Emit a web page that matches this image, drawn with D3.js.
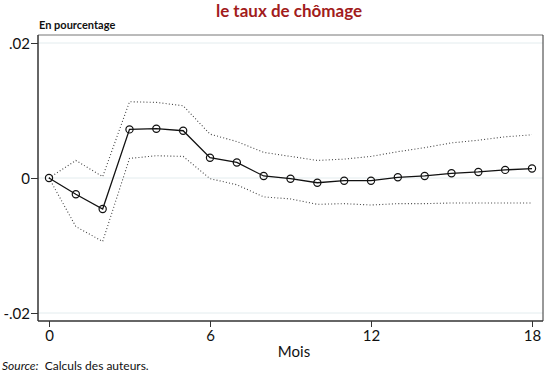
<!DOCTYPE html>
<html>
<head>
<meta charset="utf-8">
<style>
  body { margin: 0; background: #fff; font-family: Lato, "Open Sans", sans-serif; }
  svg { display: block; }
</style>
</head>
<body>
<svg id="chart" width="550" height="374"></svg>
<script src="https://d3js.org/d3.v7.min.js"></script>
<script>
  let months = d3.range(0, 19)
  let estimate = [0, -0.0024, -0.0046, 0.0072, 0.0073, 0.0070, 0.0030, 0.0023, 0.0003, -0.0001,
                  -0.0007, -0.0004, -0.0004, 0.0001, 0.0003, 0.0007, 0.0009, 0.0012, 0.0014]
  let upper = [0, 0.0026, 0.0002, 0.0113, 0.0112, 0.0107, 0.0065, 0.0054, 0.0038, 0.0032,
               0.0026, 0.0028, 0.0032, 0.0039, 0.0045, 0.0052, 0.0056, 0.0061, 0.0064]
  let lower = [0, -0.0072, -0.0094, 0.0029, 0.0033, 0.0032, -0.0001, -0.0010, -0.0028, -0.0031,
               -0.0039, -0.0038, -0.0040, -0.0038, -0.0038, -0.0037, -0.0037, -0.0037, -0.0037]
  let xTicks = [0, 6, 12, 18]
  let yTicks = [0.02, 0, -0.02]
  let yLabels = [".02", "0", "-.02"]

  let svg = d3.select("#chart")
  let box = {left: 38, right: 543, top: 35, bottom: 321}

  let xScale = d3.scaleLinear().domain([0, 18]).range([49, 532])
  let yScale = d3.scaleLinear().domain([-0.02, 0.02]).range([313, 43])

  // gridlines
  svg.append("g").selectAll("line")
    .data(yTicks)
    .enter().append("line")
    .attr("x1", box.left).attr("x2", box.right)
    .attr("y1", d => yScale(d)).attr("y2", d => yScale(d))
    .attr("stroke", "#e3ecee").attr("stroke-width", 1)

  // frame
  svg.append("line").attr("x1", box.left).attr("x2", box.right).attr("y1", box.top).attr("y2", box.top)
    .attr("stroke", "#777").attr("stroke-width", 1)
  svg.append("line").attr("x1", box.right).attr("x2", box.right).attr("y1", box.top).attr("y2", box.bottom)
    .attr("stroke", "#333").attr("stroke-width", 1)

  // y axis
  let yAxis = d3.axisLeft(yScale).tickValues(yTicks).tickSize(7)
    .tickFormat((d, i) => yLabels[i])
  let gy = svg.append("g").attr("transform", `translate(${box.left},0)`).call(yAxis)
  gy.select(".domain").attr("d", `M0,${box.top}V${box.bottom}`).attr("stroke", "#333").attr("stroke-width", 1.5)
  gy.selectAll(".tick line").attr("stroke", "#333")
  gy.selectAll(".tick text").attr("font-family", "Lato, sans-serif").attr("font-size", 15)
    .attr("fill", "#111").attr("x", -8).attr("dy", "0.35em")

  // x axis
  let xAxis = d3.axisBottom(xScale).tickValues(xTicks).tickSize(6)
  let gx = svg.append("g").attr("transform", `translate(0,${box.bottom})`).call(xAxis)
  gx.select(".domain").attr("d", `M${box.left},0H${box.right}`).attr("stroke", "#333").attr("stroke-width", 1.5)
  gx.selectAll(".tick line").attr("stroke", "#333")
  gx.selectAll(".tick text").attr("font-family", "Lato, sans-serif").attr("font-size", 15)
    .attr("fill", "#111").attr("y", 9)

  // confidence bands
  let line = d3.line().x((d, i) => xScale(months[i])).y(d => yScale(d))
  ;[upper, lower].forEach(s => {
    svg.append("path").datum(s).attr("d", line)
      .attr("fill", "none").attr("stroke", "#444").attr("stroke-width", 1.1)
      .attr("stroke-dasharray", "1,2.2")
  })

  // estimate
  svg.append("path").datum(estimate).attr("d", line)
    .attr("fill", "none").attr("stroke", "#111").attr("stroke-width", 1.3)
  svg.append("g").selectAll("circle")
    .data(estimate)
    .enter().append("circle")
    .attr("cx", (d, i) => xScale(months[i]))
    .attr("cy", d => yScale(d))
    .attr("r", 3.6)
    .attr("fill", "none").attr("stroke", "#111").attr("stroke-width", 1.2)

  // texts
  svg.append("text").attr("x", 289).attr("y", 17).attr("text-anchor", "middle")
    .attr("font-size", 17).attr("font-weight", "bold").attr("fill", "#a21c1c")
    .text("le taux de chômage")
  svg.append("text").attr("x", 39).attr("y", 29)
    .attr("font-size", 11).attr("font-weight", "bold").attr("fill", "#111")
    .text("En pourcentage")
  svg.append("text").attr("x", 294).attr("y", 357).attr("text-anchor", "middle")
    .attr("font-size", 15).attr("fill", "#111").text("Mois")
  let src = svg.append("text").attr("x", 2).attr("y", 370).attr("font-size", 12).attr("fill", "#111")
  src.append("tspan").attr("font-style", "italic").text("Source:")
  src.append("tspan").text("\u00a0 Calculs des auteurs.")
</script>
</body>
</html>
